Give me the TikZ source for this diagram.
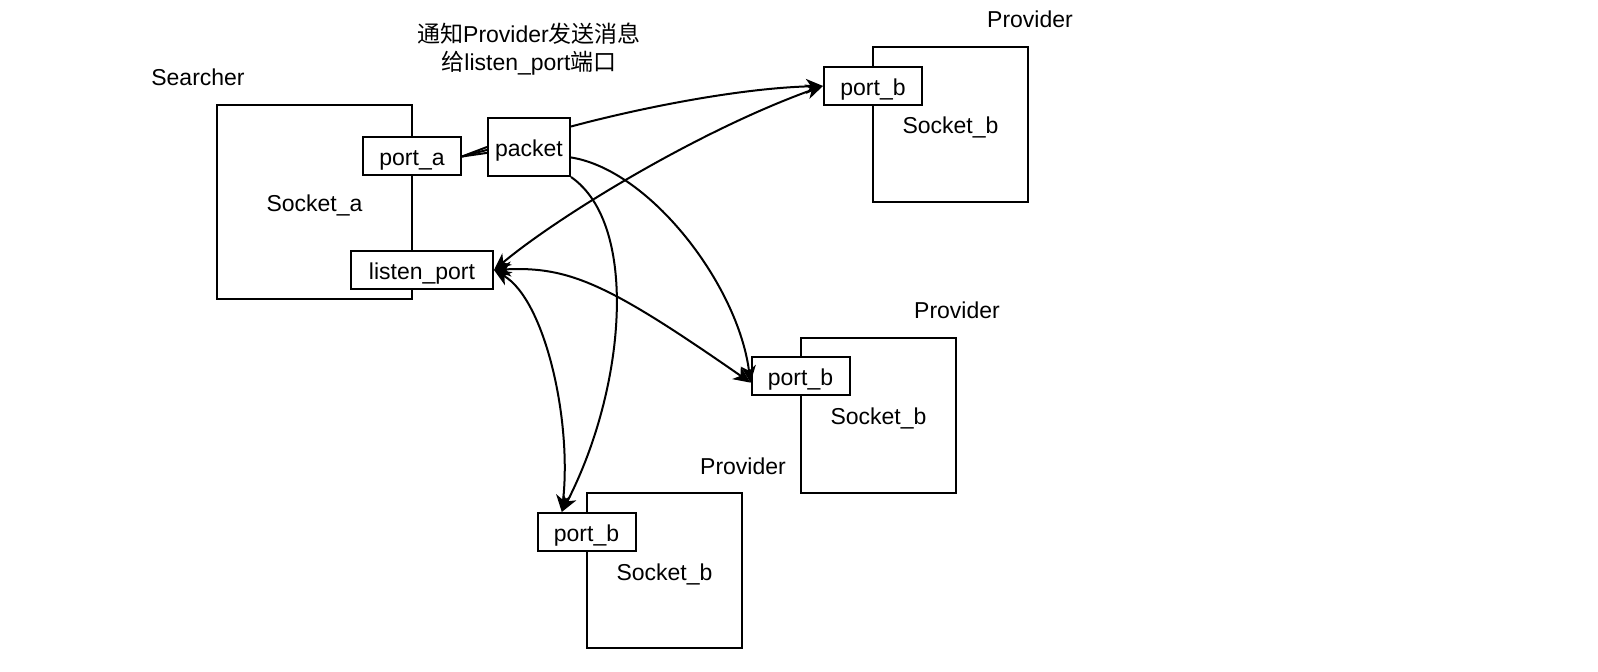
\documentclass[tikz,border=0pt]{standalone}
\usepackage{fontspec}
\setmainfont{Liberation Sans}
\newfontfamily\cjk{Noto Sans CJK SC}
\usetikzlibrary{arrows.meta}
\begin{document}
\begin{tikzpicture}[x=0.5pt,y=-0.5pt,
  every node/.style={font=\fontsize{11.5}{14}\selectfont, inner sep=0pt},
  boxtext/.style={text height=11.5pt, text depth=2pt},
  sockbox/.style={draw, line width=1pt, boxtext, minimum width=77.5pt, minimum height=77.5pt},
  portbox/.style={draw, line width=1pt, boxtext, fill=white, minimum width=49pt, minimum height=19pt},
  conn/.style={line width=1pt, -{Stealth[length=8.5pt,width=7.5pt,inset=2.5pt]}},
  biconn/.style={line width=1pt, {Stealth[length=8.5pt,width=7.5pt,inset=2.5pt]}-{Stealth[length=8.5pt,width=7.5pt,inset=2.5pt]}},
  plain/.style={line width=1pt}]
\useasboundingbox (0,0) rectangle (1598,672);
% Searcher
\node (searcher) at (198,77) {Searcher};
\node[draw, line width=1pt, boxtext, minimum width=97.5pt, minimum height=97pt] (socka) at (314.5,202) {Socket\_a};
\node[portbox] (porta) at (412,156.5) {port\_a};
\node[portbox, minimum width=71pt] (listen) at (422,270) {listen\_port};
\node[draw, line width=1pt, boxtext, fill=white, minimum width=41pt, minimum height=29pt] (packet) at (529,147) {packet};
\node[align=center] (note) at (529,49) {{\cjk 通知}Provider{\cjk 发送消息}\\{\cjk 给}listen\_port{\cjk 端口}};
% top provider
\node (prov1) at (1030,19) {Provider};
\node[sockbox] (sock1) at (950.5,124.5) {Socket\_b};
\node[portbox] (port1) at (873,86) {port\_b};
% middle provider
\node (prov2) at (957,310) {Provider};
\node[sockbox] (sock2) at (878.5,415.5) {Socket\_b};
\node[portbox] (port2) at (800.5,376.5) {port\_b};
% bottom provider
\node (prov3) at (743,466) {Provider};
\node[sockbox] (sock3) at (664.5,570.5) {Socket\_b};
\node[portbox] (port3) at (586.5,532) {port\_b};
% port_a to packet
\draw[plain] (porta.east) -- (packet.180);
\draw[plain] (porta.east) -- (packet.184);
\draw[plain] (porta.east) -- (packet.188);
% packet edges
\draw[conn] (packet.26) .. controls (640,108) and (740,88) .. (port1.west);
\draw[conn] (packet.-14) .. controls (650,170) and (738,285) .. (port2.187);
\draw[conn] (packet.south east) .. controls (640,225) and (625,390) .. (port3.141);
% listen edges
\draw[biconn] (listen.east) .. controls (560,215) and (700,130) .. (port1.west);
\draw[biconn] (listen.east) .. controls (570,266) and (610,285) .. (port2.187);
\draw[biconn] (listen.east) .. controls (545,300) and (572,420) .. (port3.141);
\end{tikzpicture}
\end{document}
